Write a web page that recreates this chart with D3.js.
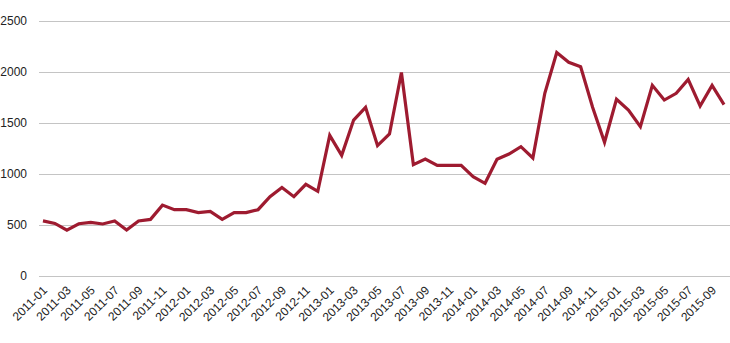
<!DOCTYPE html>
<html>
<head>
<meta charset="utf-8">
<script src="https://cdn.jsdelivr.net/npm/d3@7"></script>
<style>
  body { margin: 0; background: #fff; }
  text { font-family: "Liberation Sans", Arial, sans-serif; font-size: 12px; fill: #222; }
</style>
</head>
<body>
<script>
// months 2011-01 .. 2015-10
const months = [];
for (let yr = 2011; yr <= 2015; yr++) {
  for (let m = 1; m <= 12; m++) {
    if (yr === 2015 && m > 10) break;
    months.push(yr + "-" + String(m).padStart(2, "0"));
  }
}

const values = [
  540, 515, 450, 512, 525, 510, 540, 450, 540, 555,
  695, 650, 650, 621, 634, 555, 621, 621, 650, 778,
  868, 778, 899, 830, 1379, 1183, 1529, 1654, 1278, 1392,
  1995, 1092, 1147, 1085, 1085, 1085, 974, 909, 1144, 1196,
  1268, 1157, 1791, 2190, 2095, 2052, 1654, 1311, 1733, 1627,
  1464, 1869, 1725, 1791, 1928, 1667, 1869, 1680
];

const yTicks = [0, 500, 1000, 1500, 2000, 2500];

const W = 730, H = 343,
      gridLeft = 39, plotLeft = 37, plotRight = 730,
      plotTop = 21, plotBottom = 276;

const svg = d3.select("body").append("svg")
  .attr("width", W)
  .attr("height", H);

const x = d3.scalePoint()
  .domain(months)
  .range([plotLeft, plotRight])
  .padding(0.5);

const y = d3.scaleLinear()
  .domain([0, 2500])
  .range([plotBottom, plotTop]);

// gridlines + y labels
const yAxis = d3.axisLeft(y)
  .tickValues(yTicks)
  .tickSize(-(plotRight - gridLeft))
  .tickPadding(12)
  .tickFormat(d3.format("d"));

svg.append("g")
  .attr("transform", "translate(" + gridLeft + ",0)")
  .call(yAxis)
  .call(g => g.select(".domain").remove())
  .call(g => g.selectAll("line").attr("stroke", "#c4c4c4").attr("stroke-width", 1.2))
  .call(g => g.selectAll("text").attr("font-size", 12.5).attr("fill", "#222")
    .attr("font-family", "Liberation Sans, Arial, sans-serif"));

// x labels, every second month, rotated
const labelMonths = months.filter((d, i) => i % 2 === 0);
svg.append("g")
  .selectAll("text")
  .data(labelMonths)
  .enter()
  .append("text")
  .attr("text-anchor", "end")
  .attr("font-size", 12.5)
  .attr("transform", d => "translate(" + (x(d) + 2) + "," + (plotBottom + 12) + ") rotate(-45)")
  .attr("dy", "0.35em")
  .text(d => d);

// line
const line = d3.line()
  .x((d, i) => x(months[i]))
  .y(d => y(d));

svg.append("path")
  .datum(values)
  .attr("fill", "none")
  .attr("stroke", "#9e1b30")
  .attr("stroke-width", 3.2)
  .attr("stroke-linejoin", "miter")
  .attr("d", line);
</script>
</body>
</html>
